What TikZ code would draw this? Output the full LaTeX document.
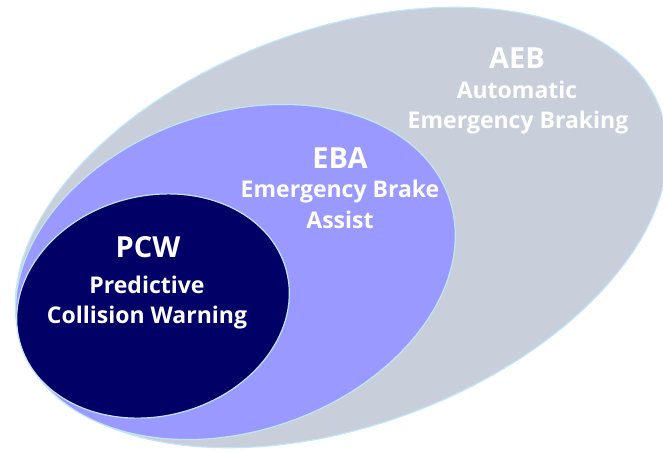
\documentclass[tikz,border=0pt]{standalone}
\usepackage{fontspec}
\setmainfont{Open Sans}
\definecolor{aebgrey}{HTML}{C8CFDB}
\definecolor{ebalav}{HTML}{9999FF}
\definecolor{pcwnavy}{HTML}{000066}
\definecolor{rimblue}{HTML}{C2E6F8}
\tikzset{
  zone/.style={draw=rimblue, line width=1.2pt},
  title/.style={text=white, font=\bfseries\fontsize{29}{32}\selectfont, anchor=base, inner sep=0pt},
  sub/.style={text=white, font=\bfseries\fontsize{23}{26}\selectfont, anchor=base, inner sep=0pt}
}
\begin{document}
\begin{tikzpicture}[x=1pt,y=-1pt]
\useasboundingbox (0,0) rectangle (663,451);
\clip (0,0) rectangle (663,451);
% outer AEB
\coordinate (caeb) at (341.5,227.5);
\draw[zone, fill=aebgrey, rotate around={20.4:(caeb)}] (caeb) ellipse [x radius=340pt, y radius=198pt];
% middle EBA
\coordinate (ceba) at (235.5,272);
\draw[zone, fill=ebalav, rotate around={19.2:(ceba)}] (ceba) ellipse [x radius=226pt, y radius=159pt];
% inner PCW
\coordinate (cpcw) at (153,306);
\draw[zone, fill=pcwnavy, rotate around={15:(cpcw)}] (cpcw) ellipse [x radius=138pt, y radius=110pt];
% texts
\node[title] (aeb) at (517,68) {AEB};
\node[sub] (aeb1) at (517,98) {Automatic};
\node[sub] (aeb2) at (518,128) {Emergency Braking};
\node[title] (eba) at (340,168) {EBA};
\node[sub] (eba1) at (340,197) {Emergency Brake};
\node[sub] (eba2) at (340,228) {Assist};
\node[title] (pcw) at (148,257) {PCW};
\node[sub] (pcw1) at (147,293) {Predictive};
\node[sub] (pcw2) at (147,323) {Collision Warning};
\end{tikzpicture}
\end{document}
